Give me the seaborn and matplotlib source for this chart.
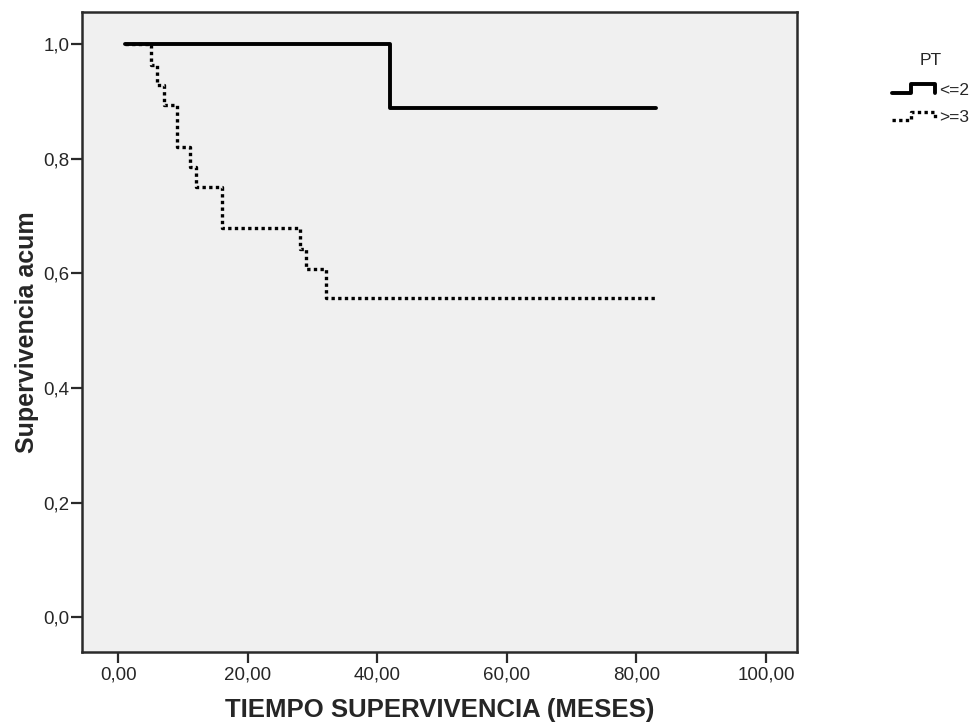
import numpy as np
import pandas as pd
import matplotlib
matplotlib.use("Agg")
import matplotlib.pyplot as plt
import seaborn as sns
from matplotlib.lines import Line2D
from matplotlib.legend_handler import HandlerBase

# Kaplan-Meier steps
t_le2 = [1, 42, 83]
s_le2 = [1.0, 0.889, 0.889]

t_ge3 = [1, 5, 6, 7, 9, 11, 12, 16, 28, 29, 32, 83]
s_ge3 = [1.0, 0.964, 0.929, 0.893, 0.821, 0.786, 0.75, 0.679, 0.643, 0.607, 0.557, 0.557]

groups = ["<=2", ">=3"]
x_ticks = [0, 20, 40, 60, 80, 100]
y_ticks = [0.0, 0.2, 0.4, 0.6, 0.8, 1.0]

df = pd.DataFrame({
    "tiempo": t_le2 + t_ge3,
    "surv": s_le2 + s_ge3,
    "PT": [groups[0]] * len(t_le2) + [groups[1]] * len(t_ge3),
})

sns.set_style("ticks", {"axes.facecolor": "#f0f0f0", "axes.edgecolor": "#2a2a2a"})
plt.rcParams["font.family"] = ["Liberation Sans", "DejaVu Sans"]

fig = plt.figure(figsize=(9.72, 7.22), dpi=100)
ax = fig.add_axes([0.0844, 0.0974, 0.7356, 0.886])

dot = (1, 1.0)
sns.lineplot(data=df, x="tiempo", y="surv", hue="PT", style="PT",
             palette=["black", "black"], dashes=["", dot],
             estimator=None, drawstyle="steps-post", linewidth=2.4,
             legend=False, ax=ax)
ax.lines[0].set_linewidth(2.8)
for ln in ax.lines:
    ln.set_dash_capstyle("butt")

ax.set_xlim(-5.6, 104.8)
ax.set_ylim(-0.06, 1.056)
ax.set_xticks(x_ticks)
ax.set_xticklabels([f"{v:.2f}".replace(".", ",") for v in x_ticks], fontsize=13.5)
ax.set_yticks(y_ticks)
ax.set_yticklabels([f"{v:.1f}".replace(".", ",") for v in y_ticks], fontsize=13.5)
ax.tick_params(axis="x", length=8, width=1.6, color="#2a2a2a", pad=3)
ax.tick_params(axis="y", length=8, width=1.6, color="#2a2a2a", pad=1)
for sp in ax.spines.values():
    sp.set_linewidth(1.8)

ax.set_xlabel("TIEMPO SUPERVIVENCIA (MESES)", fontsize=18.5, fontweight="bold", va="center")
ax.xaxis.set_label_coords(0.5, -0.091)
ax.set_ylabel("Supervivencia acum", fontsize=18, fontweight="bold", va="center")
ax.yaxis.set_label_coords(-0.077, 0.5)


class HandlerStep(HandlerBase):
    def __init__(self, dashes=None, lw=2.8):
        super().__init__()
        self.dashes = dashes
        self.lw = lw

    def create_artists(self, legend, orig_handle, xdescent, ydescent,
                       width, height, fontsize, trans):
        x0 = -xdescent
        y0 = -ydescent
        xs = [x0, x0 + 0.45 * width, x0 + 0.45 * width, x0 + width, x0 + width]
        ys = [y0 + 0.05 * height, y0 + 0.05 * height, y0 + 0.95 * height,
              y0 + 0.95 * height, y0 + 0.05 * height]
        ln = Line2D(xs, ys, color="black", linewidth=self.lw, transform=trans)
        if self.dashes is not None:
            ln.set_dashes(self.dashes)
            ln.set_dash_capstyle("butt")
        return [ln]


h1 = Line2D([], [], color="black")
h2 = Line2D([], [], color="black", linestyle=":")
leg = fig.legend([h1, h2], groups, title="PT",
                 handler_map={h1: HandlerStep(), h2: HandlerStep(dot, 2.4)},
                 loc="upper right", bbox_to_anchor=(0.997, 0.927),
                 frameon=False, fontsize=12.5, title_fontsize=12.5,
                 handlelength=2.5, handleheight=0.5, handletextpad=0.23,
                 labelspacing=0.7, borderpad=0, borderaxespad=0)
leg._legend_box.sep = 11

fig.savefig("out.png", dpi=100)
